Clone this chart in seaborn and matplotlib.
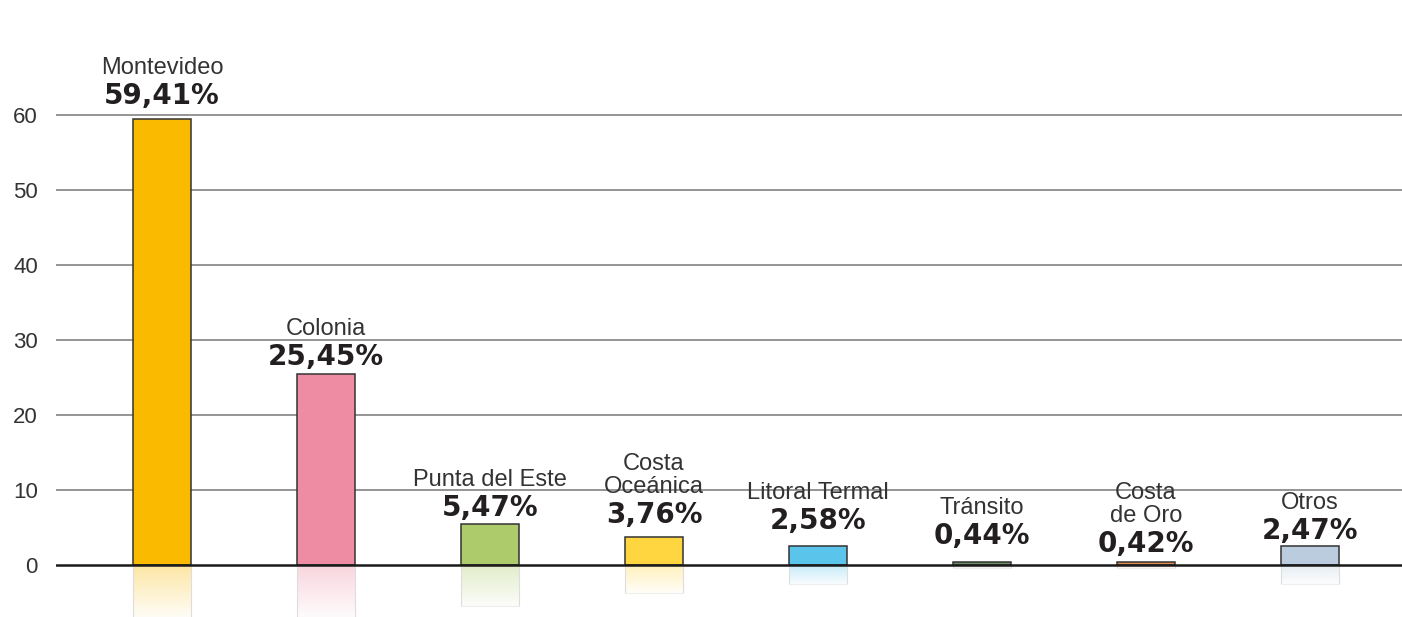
import numpy as np
import pandas as pd
import matplotlib
matplotlib.use("Agg")
import matplotlib.pyplot as plt
from matplotlib.colors import to_rgb
import seaborn as sns

# Share of visitors by destination (%)
destinos = ["Montevideo", "Colonia", "Punta del Este", "Costa\nOceánica",
            "Litoral Termal", "Tránsito", "Costa\nde Oro", "Otros"]
porcentajes = [59.41, 25.45, 5.47, 3.76, 2.58, 0.44, 0.42, 2.47]
etiquetas = ["59,41%", "25,45%", "5,47%", "3,76%", "2,58%", "0,44%", "0,42%", "2,47%"]
colores = ["#F9BA00", "#EE8CA4", "#ADCB6A", "#FFD640", "#5BC4EA", "#6E8C66", "#E48A4C", "#BACCDE"]
y_ticks = [0, 10, 20, 30, 40, 50, 60]

# gap (pixels) between each bar top and its percentage label
label_gap = [15, 9, 8, 14, 17, 18, 10, 7]

sns.set_theme(style="white")
plt.rcParams["font.family"] = ["Liberation Sans", "DejaVu Sans"]

df = pd.DataFrame({"destino": destinos, "pct": porcentajes})

fig = plt.figure(figsize=(14.02, 6.17), dpi=100)
ax = fig.add_axes([56 / 1402, 0, 1 - 56 / 1402, 1])

bar_w = 0.354
sns.barplot(data=df, x="destino", y="pct", hue="destino", palette=colores,
            saturation=1, width=bar_w, edgecolor="#333333", linewidth=1.1,
            legend=False, ax=ax, zorder=3)

ax.set_xlim(-0.646, 7.561)
ax.set_ylim(-6.93, 75.3)

# horizontal grid
for t in y_ticks[1:]:
    ax.axhline(t, color="#8c8c8c", lw=1.3, zorder=1)
ax.axhline(0, color="#1a1a1a", lw=1.8, zorder=4)

# faded mirror of each bar below the baseline
ymin = ax.get_ylim()[0]
for i, (v, c) in enumerate(zip(porcentajes, colores)):
    depth = max(-v, ymin)
    r, g, b = to_rgb(c)
    n = 64
    alpha = np.linspace(0.36, 0.04, n)[:, None]
    img = np.zeros((n, 1, 4))
    img[..., 0], img[..., 1], img[..., 2] = r, g, b
    img[..., 3] = alpha
    ax.imshow(img, extent=[i - bar_w / 2, i + bar_w / 2, depth, 0],
              aspect="auto", origin="upper", zorder=2, interpolation="bilinear")
    ax.plot([i - bar_w / 2, i - bar_w / 2], [0, depth], color="#dddddd", lw=0.8, zorder=2)
    ax.plot([i + bar_w / 2, i + bar_w / 2], [0, depth], color="#dddddd", lw=0.8, zorder=2)
    ax.plot([i - bar_w / 2, i + bar_w / 2], [depth, depth], color="#eeeeee", lw=0.8, zorder=2)

# labels: percentage in bold, destination name above it
for i, (v, name, lab, gap) in enumerate(zip(porcentajes, destinos, etiquetas, label_gap)):
    ax.annotate(lab, (i, v), xytext=(0, gap), textcoords="offset pixels",
                ha="center", va="baseline", fontsize=20, fontweight="bold",
                family="DejaVu Sans", color="#231f20", zorder=5)
    lines = name.split("\n")
    for k, line in enumerate(reversed(lines)):
        ax.annotate(line, (i, v), xytext=(0, gap + 30 + 23 * k), textcoords="offset pixels",
                    ha="center", va="baseline", fontsize=17, color="#333333", zorder=5)

ax.set_yticks(y_ticks)
ax.set_yticklabels([str(t) for t in y_ticks], fontsize=16, color="#333333")
ax.tick_params(axis="y", length=0, pad=13)
ax.set_xticks([])
ax.set_xlabel("")
ax.set_ylabel("")
for s in ax.spines.values():
    s.set_visible(False)
ax.patch.set_alpha(0)

fig.savefig("out.png", dpi=100)
